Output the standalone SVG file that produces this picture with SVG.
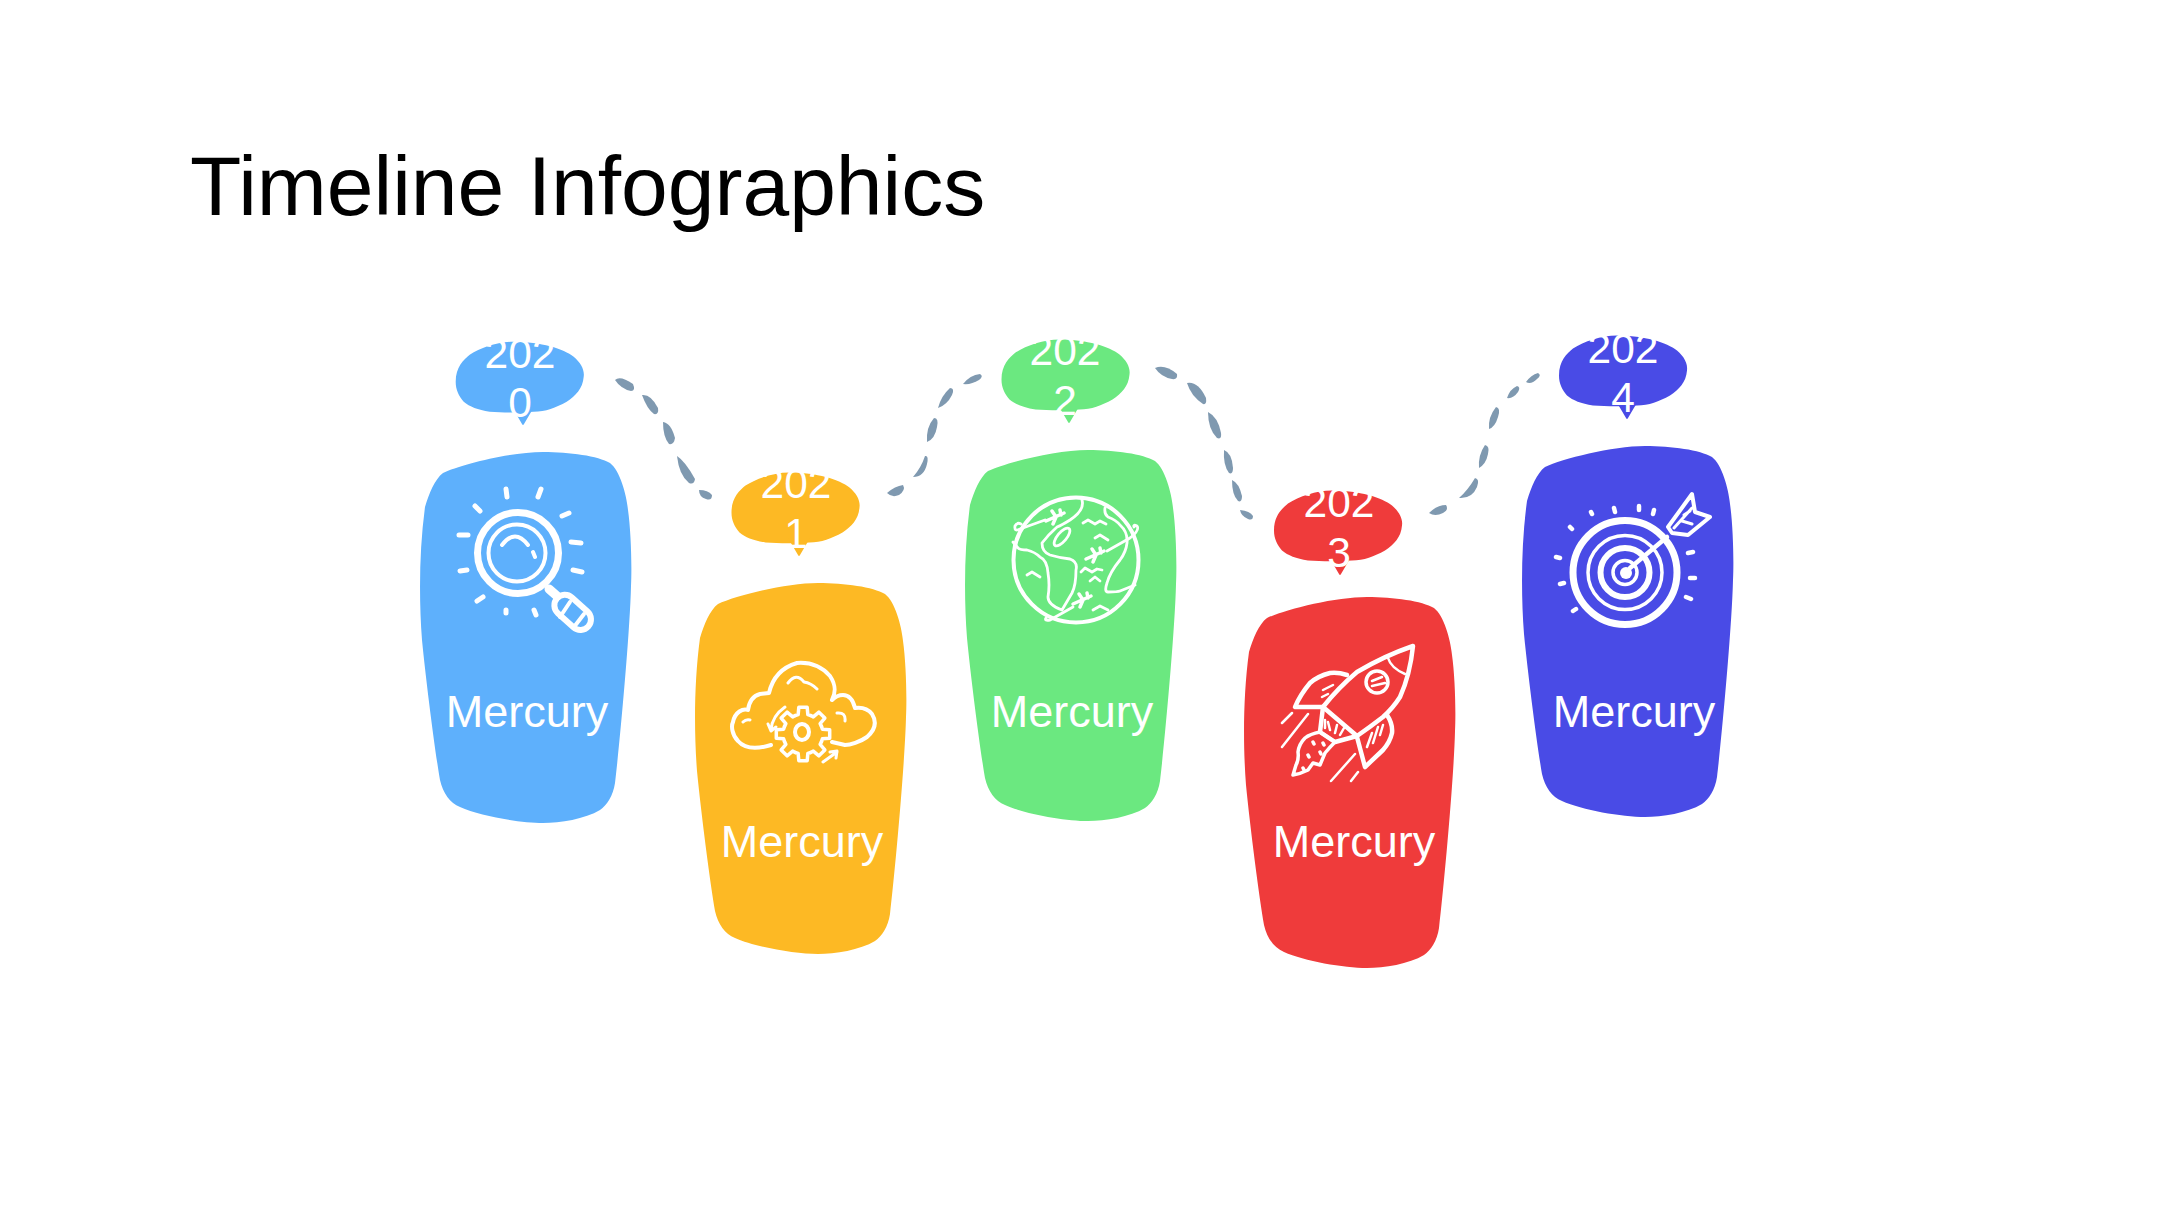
<svg xmlns="http://www.w3.org/2000/svg" width="2160" height="1215" viewBox="0 0 2160 1215">
<style>
text{font-family:"Liberation Sans",Arial,sans-serif;fill:#fff}
.t{font-size:84px;fill:#000}
.y{font-size:42.5px;text-anchor:middle}
.m{font-size:45px;text-anchor:middle}
.d{fill:#7f99b0}
.i{fill:none;stroke:#fff;stroke-linecap:round;stroke-linejoin:round}
.f{fill:#fff}
</style>
<defs>
<path id="body" d="M23,22C40,14 90,1 123,1C150,1 178,5 190,12C200,20 206,42 208,59C211,80 212,115 211,135C210,180 200,290 195,332C193,345 187,354 180,359C165,368 140,372 123,372C100,372 60,365 40,356C30,352 23,342 20,329C15,300 6,230 2,189C-1,150 -1,100 5,56C9,42 15,28 23,22Z"/>
<path id="bub" d="M0,40C0,25 8,18 14,13C25,6 42,0 58,0C85,0 108,7 118,15C125,21 129,28 128,35C127,47 120,54 111,60C100,66 90,70 78,70C65,71 48,71 34,70C22,68 14,65 8,60C3,54 0,48 0,40Z"/>
<path id="tip" d="M-11,-18L-1,-1Q0,1 1,-1L11,-18Z"/>
<path id="tooth" d="M18.5,-7.65L19.4,-4.84L26.7,-4.2L26.7,4.2L19.4,4.84L18.5,7.65"/>
<path id="plane" d="M-9,4L9,-4M-3,-6L1,0L-2,7M5,-7L6,-2"/>
</defs>
<text class="t" x="190" y="215">Timeline Infographics</text>
<g id="connectors" class="d">
<path d="M615,380Q620,375 633,384Q636,391 631,391Q621,389 615,380Z"/>
<path d="M642,395Q651,394 658,408Q659,415 654,414Q647,409 642,395Z"/>
<path d="M663,422Q671,423 675,438Q674,445 669,444Q663,437 663,422Z"/>
<path d="M677,456Q685,461 695,479Q694,485 689,483Q679,475 677,456Z"/>
<path d="M699,490Q708,490 712,495Q712,501 706,499Q699,497 699,490Z"/>
<path d="M887,493Q895,486 903,485Q906,490 899,495Q892,498 887,493Z"/>
<path d="M913,477Q921,468 925,456Q929,455 927,464Q924,477 913,477Z"/>
<path d="M927,442Q926,427 934,418Q939,418 937,427Q935,439 927,442Z"/>
<path d="M938,408Q941,396 950,388Q955,388 952,395Q947,405 938,408Z"/>
<path d="M963,384Q970,375 980,374Q984,376 979,380Q971,385 963,384Z"/>
<path d="M1155,368Q1165,364 1177,374Q1178,380 1172,379Q1161,377 1155,368Z"/>
<path d="M1187,383Q1198,381 1206,398Q1207,405 1203,404Q1191,396 1187,383Z"/>
<path d="M1208,412Q1218,417 1221,433Q1222,440 1217,438Q1208,429 1208,412Z"/>
<path d="M1224,450Q1232,453 1233,468Q1233,475 1229,473Q1223,465 1224,450Z"/>
<path d="M1232,480Q1239,483 1242,496Q1242,503 1238,501Q1232,495 1232,480Z"/>
<path d="M1240,510Q1250,511 1253,516Q1253,521 1248,519Q1241,516 1240,510Z"/>
<path d="M1429,513Q1437,505 1446,505Q1449,510 1443,513Q1435,517 1429,513Z"/>
<path d="M1459,498Q1468,490 1475,478Q1480,479 1477,487Q1472,499 1459,498Z"/>
<path d="M1479,468Q1478,455 1485,445Q1490,446 1488,454Q1486,464 1479,468Z"/>
<path d="M1489,429Q1488,417 1496,407Q1501,408 1498,417Q1495,427 1489,429Z"/>
<path d="M1507,398Q1510,389 1517,386Q1521,387 1518,392Q1513,399 1507,398Z"/>
<path d="M1526,382Q1531,375 1538,373Q1542,375 1537,379Q1531,385 1526,382Z"/>
</g>
<g id="node-2020" fill="#5eb0fc">
<use href="#body" x="420" y="451"/>
<use href="#bub" x="455.7" y="341.7"/>
<use href="#tip" x="523" y="425"/>
<text class="y" x="520" y="368">202</text><text class="y" x="520" y="417">0</text>
<text class="m" x="527" y="727">Mercury</text>
<g class="i" stroke-width="7"><circle cx="518" cy="553" r="40.5"/><path d="M549,589L557,596" stroke-width="9"/><rect x="552" y="602" width="42" height="21" rx="10.5" transform="rotate(42 573 612)" stroke-width="6"/><path d="M570,602L560,617M584,614L574,627" stroke-width="4"/></g>
<g class="i" stroke-width="4"><circle cx="517" cy="553" r="28.5"/><path d="M502,545Q515,528 528,545M533,552L535,557"/></g>
<g class="i" stroke-width="5"><path d="M506,489L507,497M541,489L538,497M475,506L480,511M569,513L562,516M459,535L468,535M571,542L581,543M460,571L467,570M573,570L582,572M477,601L483,597M506,610L506,613M534,610L536,615"/></g>
</g>
<g id="node-2021" fill="#fdb924">
<use href="#body" x="695" y="582"/>
<use href="#bub" x="731.5" y="472.5"/>
<use href="#tip" x="799" y="556"/>
<text class="y" x="796" y="498">202</text><text class="y" x="796" y="548">1</text>
<text class="m" x="802" y="857">Mercury</text>
<g class="i" stroke-width="4"><path d="M771,745C758,749 745,749 738,741C732,735 731,726 733,722C735,712 743,708 748,710C749,702 753,696 760,694L769,693C772,680 780,668 797,663C810,662 822,667 830,676C836,685 836,692 832,700C836,696 840,695 843,695C849,695 853,700 855,708C862,707 868,709 872,714C877,722 875,730 867,737C860,742 850,745 845,745L832,742"/><path d="M743,722Q746,719 750,720M788,683Q796,672 804,682Q811,683 817,689M837,713Q846,712 845,721" stroke-width="3"/><path d="M785,707Q772,716 771,730M768,724L771,731L776,727" stroke-width="3"/><path d="M823,762L837,752M830,752L837,751L836,758" stroke-width="3"/></g>
<g class="i" stroke-width="3.5"><ellipse cx="802" cy="732" rx="7" ry="8" stroke-width="4"/><g transform="translate(803,734)"><use href="#tooth"/><use href="#tooth" transform="rotate(45)"/><use href="#tooth" transform="rotate(90)"/><use href="#tooth" transform="rotate(135)"/><use href="#tooth" transform="rotate(180)"/><use href="#tooth" transform="rotate(225)"/><use href="#tooth" transform="rotate(270)"/><use href="#tooth" transform="rotate(315)"/></g></g>
</g>
<g id="node-2022" fill="#6be880">
<use href="#body" x="965" y="449"/>
<use href="#bub" x="1001.5" y="339.5"/>
<use href="#tip" x="1069" y="423"/>
<text class="y" x="1065" y="365">202</text><text class="y" x="1065" y="415">2</text>
<text class="m" x="1072" y="727">Mercury</text>
<g class="i" stroke-width="4"><circle cx="1076" cy="560" r="62.5"/></g>
<g class="i" stroke-width="2.8"><path d="M1082,500Q1085,510 1070,520Q1062,525 1057,527Q1048,535 1042,543Q1042,552 1050,555Q1060,558 1070,559Q1078,562 1076,570Q1076,585 1072,593L1062,610Q1048,605 1048,597Q1050,585 1048,573Q1047,560 1040,557Q1035,552 1027,550Q1020,550 1018,548L1013,542"/><path d="M1105,508Q1104,514 1108,517Q1116,520 1120,525Q1128,532 1127,543Q1126,552 1120,560Q1110,572 1107,583Q1104,592 1108,592Q1118,592 1120,591L1135,585"/><ellipse cx="1062" cy="537" rx="11" ry="4.5" transform="rotate(-50 1062 537)"/><path d="M1045,520L1020,529Q1014,532 1015,526Q1017,522 1021,524M1107,551L1130,538Q1140,530 1137,526Q1133,524 1134,527M1073,607L1050,620Q1044,621 1046,618"/><path d="M1083,523L1088,520L1095,524L1100,521L1106,524M1095,538L1100,535L1108,540M1081,572L1085,568L1092,572L1097,569L1102,570M1090,581L1095,577L1100,581M1027,575L1032,572L1040,577M1093,610L1100,606L1108,610"/></g>
<g class="i" stroke-width="3.5"><use href="#plane" x="1055" y="517"/><use href="#plane" x="1095" y="555"/><use href="#plane" x="1082" y="600"/></g>
</g>
<g id="node-2023" fill="#ef3b3b">
<use href="#body" x="1244" y="596"/>
<use href="#bub" x="1274" y="490.5"/>
<use href="#tip" x="1340" y="575"/>
<text class="y" x="1339" y="517">202</text><text class="y" x="1339" y="567">3</text>
<text class="m" x="1354" y="857">Mercury</text>
<g class="i" stroke-width="4.5"><path d="M1413,646Q1384,656 1357,672Q1338,688 1323,707L1357,736Q1370,727 1383,717Q1393,708 1400,697Q1410,675 1413,646Z"/><path d="M1347,675Q1338,672 1330,673Q1318,676 1310,683Q1300,695 1295,707L1323,707"/><path d="M1387,715Q1393,724 1392,733Q1390,742 1383,750L1365,767L1357,737"/><path d="M1323,707L1320,732L1335,742L1357,736"/><path d="M1320,732Q1310,734 1305,738Q1299,744 1298,752Q1299,760 1296,765L1293,775Q1300,774 1308,770L1313,763L1320,765L1325,753Q1330,747 1335,742Z" stroke-width="3.5"/></g>
<g class="i" stroke-width="2.5"><circle cx="1377" cy="682" r="11" stroke-width="3.5"/><path d="M1372,681L1382,677M1372,686L1385,683M1388,658Q1391,668 1405,674M1282,723L1292,713M1282,747L1308,714M1331,781L1355,754M1351,781L1358,772M1325,728L1325,720M1330,730L1328,722M1335,733L1337,725M1340,735L1344,728M1367,747L1372,733M1373,743L1378,727M1380,735L1383,725M1322,697L1328,694M1323,690L1333,685"/><path d="M1313,742L1314,744M1323,743L1324,745M1308,755L1309,757M1320,752L1321,754M1303,768L1304,770" stroke-width="3.5"/></g>
</g>
<g id="node-2024" fill="#494be6">
<use href="#body" x="1522" y="445"/>
<use href="#bub" x="1559" y="335.5"/>
<use href="#tip" x="1627" y="419"/>
<text class="y" x="1623" y="363">202</text><text class="y" x="1623" y="412">4</text>
<text class="m" x="1634" y="727">Mercury</text>
<g class="i" stroke-width="7"><circle cx="1625" cy="572.5" r="52"/><circle cx="1625" cy="572.5" r="24.5" stroke-width="6"/></g>
<g class="i" stroke-width="3.5"><circle cx="1625" cy="572.5" r="37"/><circle cx="1625" cy="572.5" r="12"/></g>
<circle class="f" cx="1626" cy="573" r="6"/>
<g class="i" stroke-width="4.5"><path d="M1630,568L1667,537"/><path d="M1668,527L1692,494L1695,512L1710,517L1688,535L1672,533Z" stroke-width="4"/><path d="M1674,528L1692,508M1682,521L1692,524M1684,515L1690,511" stroke-width="3"/><path d="M1570,527L1572,529M1591,512L1592,514M1614,508L1615,512M1639,506L1639,510M1654,510L1653,514M1556,557L1560,558M1560,584L1564,583M1573,611L1576,609M1688,553L1693,552M1690,578L1695,578M1686,597L1691,599"/></g>
</g>
</svg>
